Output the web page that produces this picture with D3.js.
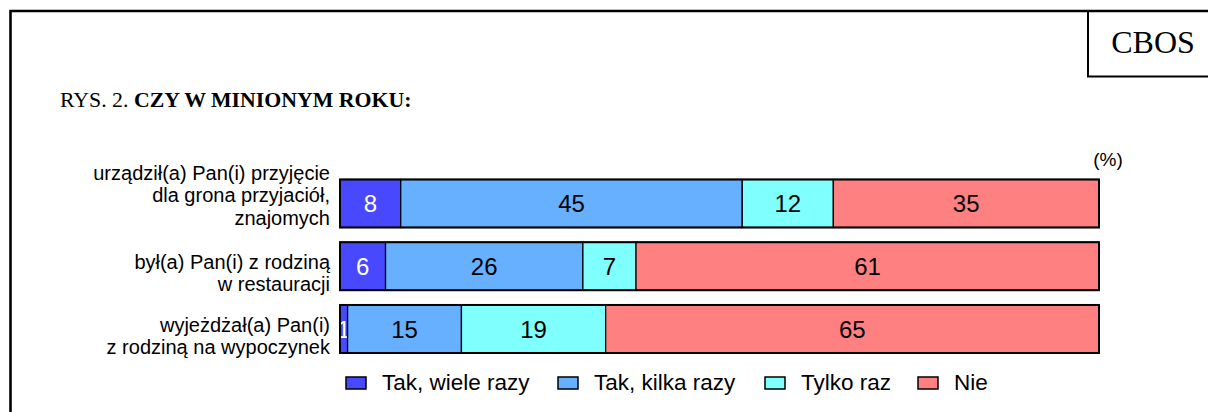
<!DOCTYPE html>
<html>
<head>
<meta charset="utf-8">
<script src="https://cdn.jsdelivr.net/npm/d3@7"></script>
<style>
  body { margin: 0; background: #fff; }
  svg { display: block; }
</style>
</head>
<body>
<div id="chart"></div>
<script>
// dane z wykresu (%)
let categories = [
    ['urządził(a) Pan(i) przyjęcie', 'dla grona przyjaciół,', 'znajomych'],
    ['był(a) Pan(i) z rodziną', 'w restauracji'],
    ['wyjeżdżał(a) Pan(i)', 'z rodziną na wypoczynek'],
];
let series = ['Tak, wiele razy', 'Tak, kilka razy', 'Tylko raz', 'Nie'];
let wiele_razy = [8, 6, 1];
let kilka_razy = [45, 26, 15];
let tylko_raz = [12, 7, 19];
let nie = [35, 61, 65];

let colorify = ['#4848FF', '#66B0FF', '#80FFFF', '#FF8080'];
let labelColor = ['#fff', '#000', '#000', '#000'];
let labelShift = [-8, 7, 7];      //przesunięcie etykiet kategorii (px)

let width = 1208, height = 412;
let sans = 'Arial, "Liberation Sans", sans-serif';
let serif = '"Times New Roman", "Liberation Serif", serif';
let values = [wiele_razy, kilka_razy, tylko_raz, nie];

// tabela dla d3.stack
let table = categories.map((c, i) => {
    let row = { idx: i };
    series.forEach((s, k) => { row[s] = values[k][i]; });
    return row;
});
let stacked = d3.stack().keys(series)(table);

let svg = d3.select('#chart')
    .append('svg')
    .attr('width', width)
    .attr('height', height);

// ramka
svg.append('path')
    .attr('d', 'M10.5,412 V11 H1210')
    .style('fill', 'none')
    .style('stroke', '#000')
    .style('stroke-width', 2.6);
svg.append('path')
    .attr('d', 'M1088,11 V76.5 H1210')
    .style('fill', 'none')
    .style('stroke', '#000')
    .style('stroke-width', 2);
svg.append('text')
    .attr('x', 1153)
    .attr('y', 53)
    .style('font-family', serif)
    .style('font-size', '32px')
    .style('text-anchor', 'middle')
    .text('CBOS');

// tytuł
let title = svg.append('text')
    .attr('x', 60)
    .attr('y', 107)
    .style('font-family', serif)
    .style('font-size', '21.8px');
title.append('tspan').text('RYS. 2. ');
title.append('tspan').style('font-weight', 'bold').text('CZY W MINIONYM ROKU:');

let x = d3.scaleLinear().domain([0, 100]).range([340, 1099]);
let y = d3.scaleBand().domain(d3.range(categories.length))
    .range([172.1, 360.35]).paddingInner(0.235).paddingOuter(0.1175);

svg.append('text')
    .attr('x', 1108)
    .attr('y', 166)
    .style('font-family', sans)
    .style('font-size', '19px')
    .style('text-anchor', 'middle')
    .text('(%)');

let layer = svg.selectAll('g.layer')
    .data(stacked)
    .join('g')
    .attr('class', 'layer');

layer.selectAll('rect')
    .data((d, k) => d.map(v => ({ v: v, k: k })))
    .join('rect')
    .attr('x', d => x(d.v[0]))
    .attr('y', d => y(d.v.data.idx))
    .attr('width', d => x(d.v[1]) - x(d.v[0]))
    .attr('height', y.bandwidth())
    .style('fill', d => colorify[d.k])
    .style('stroke', '#000')
    .style('stroke-width', 1.3);

// obrys paska
svg.selectAll('rect.outline')
    .data(table)
    .join('rect')
    .attr('class', 'outline')
    .attr('x', x(0))
    .attr('y', d => y(d.idx))
    .attr('width', x(100) - x(0))
    .attr('height', y.bandwidth())
    .style('fill', 'none')
    .style('stroke', '#000')
    .style('stroke-width', 2);

layer.selectAll('text')
    .data((d, k) => d.map(v => ({ v: v, k: k })))
    .join('text')
    .attr('x', d => (x(d.v[0]) + x(d.v[1])) / 2)
    .attr('y', d => y(d.v.data.idx) + y.bandwidth() / 2 + 9)
    .style('font-family', sans)
    .style('font-size', '24px')
    .style('text-anchor', 'middle')
    .style('fill', d => labelColor[d.k])
    .text(d => d.v[1] - d.v[0]);

// etykiety kategorii
let lineH = 22.5;
let cat = svg.selectAll('text.cat')
    .data(categories)
    .join('text')
    .attr('class', 'cat')
    .attr('x', 330)
    .attr('y', (d, i) => y(i) + y.bandwidth() / 2 - (d.length - 1) * lineH / 2 + 7 + labelShift[i])
    .style('font-family', sans)
    .style('font-size', '20px')
    .style('text-anchor', 'end');
cat.selectAll('tspan')
    .data(d => d)
    .join('tspan')
    .attr('x', 330)
    .attr('dy', (d, i) => i === 0 ? 0 : lineH)
    .text(d => d);

// legenda
let legendX = [346, 558, 765, 918];
let legend = svg.selectAll('g.legend')
    .data(series)
    .join('g')
    .attr('class', 'legend')
    .attr('transform', (d, i) => `translate(${legendX[i]},377)`);
legend.append('rect')
    .attr('width', 20)
    .attr('height', 12)
    .style('fill', (d, i) => colorify[i])
    .style('stroke', '#000')
    .style('stroke-width', 1.5);
legend.append('text')
    .attr('x', 36)
    .attr('y', 13)
    .style('font-family', sans)
    .style('font-size', '22.5px')
    .text(d => d);
</script>
</body>
</html>
